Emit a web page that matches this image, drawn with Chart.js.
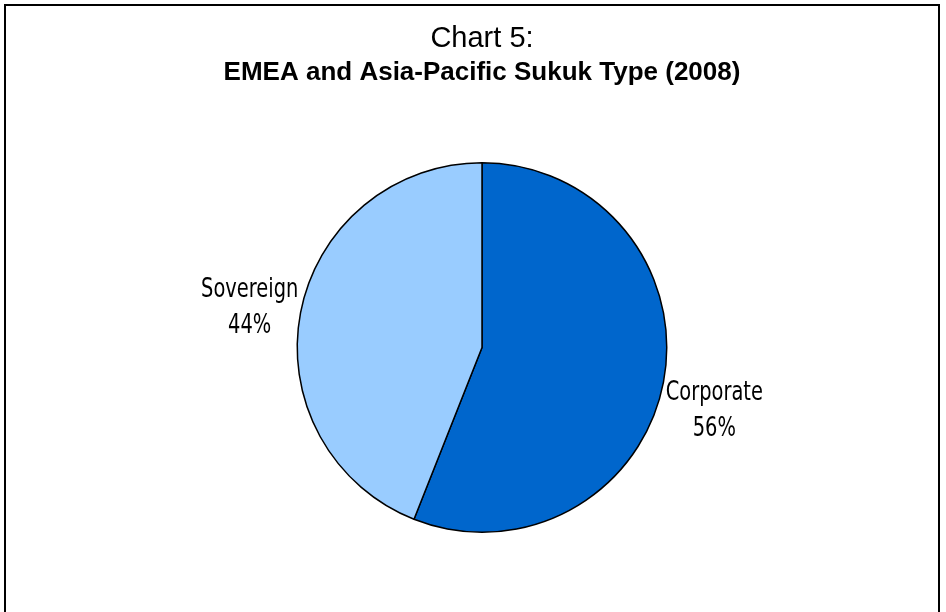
<!DOCTYPE html>
<html>
<head>
<meta charset="utf-8">
<script src="https://cdn.jsdelivr.net/npm/chart.js@4.4.1/dist/chart.umd.min.js"></script>
<style>
  html, body { margin: 0; padding: 0; background: #fff; overflow: hidden; }
  #marco {
    position: absolute; left: 4px; top: 4px; width: 932px; height: 640px;
    border: 2px solid #000; border-bottom: none;
  }
  #lienzo { position: absolute; left: 0; top: 0; width: 946px; height: 612px; }
</style>
</head>
<body>
<div id="marco"></div>
<div id="lienzo"><canvas id="myChart" width="946" height="612"></canvas></div>
<script>
const tipos = ['Corporate', 'Sovereign'];
const porcentajes = [56, 44];
const colores = ['#0066CC', '#99CCFF'];

const fuenteEtiqueta = '"Liberation Sans Narrow", "DejaVu Sans Condensed", "Roboto Condensed", "Liberation Sans", sans-serif';
const fuenteTitulo = '"Liberation Sans", Arial, Helvetica, sans-serif';

// etiquetas fuera de cada porcion: nombre y porcentaje
const etiquetasFuera = {
    id: 'etiquetasFuera',
    afterDatasetsDraw(chart) {
        const ctx = chart.ctx;
        const arcos = chart.getDatasetMeta(0).data;
        ctx.save();
        ctx.fillStyle = '#000';
        ctx.font = '27px ' + fuenteEtiqueta;
        ctx.textAlign = 'center';
        ctx.textBaseline = 'middle';
        arcos.forEach((arco, i) => {
            const p = arco.getProps(['x', 'y', 'startAngle', 'endAngle', 'outerRadius'], true);
            const medio = (p.startAngle + p.endAngle) / 2;
            const dist = p.outerRadius * 1.28;
            const x = p.x + Math.cos(medio) * dist;
            const y = p.y + Math.sin(medio) * dist * 1.17 + 12;
            // letra estrecha: se comprime en horizontal
            ctx.save();
            ctx.translate(x, y);
            ctx.scale(0.8, 1);
            ctx.fillText(tipos[i], 0, -18);
            ctx.fillText(porcentajes[i] + '%', 0, 18);
            ctx.restore();
        });
        ctx.restore();
    }
};

ctx = document.getElementById('myChart').getContext('2d');

grafica = new Chart(ctx, {
    type: 'pie',
    data: {
        labels: tipos,
        datasets: [{
            data: porcentajes,
            backgroundColor: colores,
            borderColor: '#000',
            borderWidth: 1.5
        }]
    },
    options: {
        responsive: false,
        animation: false,
        layout: {
            padding: { top: 0, bottom: 79, left: 18, right: 0 }
        },
        plugins: {
            legend: { display: false },
            tooltip: { enabled: false },
            title: {
                display: true,
                text: 'Chart 5:',
                color: '#000',
                font: { family: fuenteTitulo, size: 29, weight: 'normal' },
                padding: { top: 22, bottom: 0 }
            },
            subtitle: {
                display: true,
                text: 'EMEA and Asia-Pacific Sukuk Type (2008)',
                color: '#000',
                font: { family: fuenteTitulo, size: 26, weight: 'bold' },
                padding: { top: 0, bottom: 74 }
            }
        }
    },
    plugins: [etiquetasFuera]
});
</script>
</body>
</html>
